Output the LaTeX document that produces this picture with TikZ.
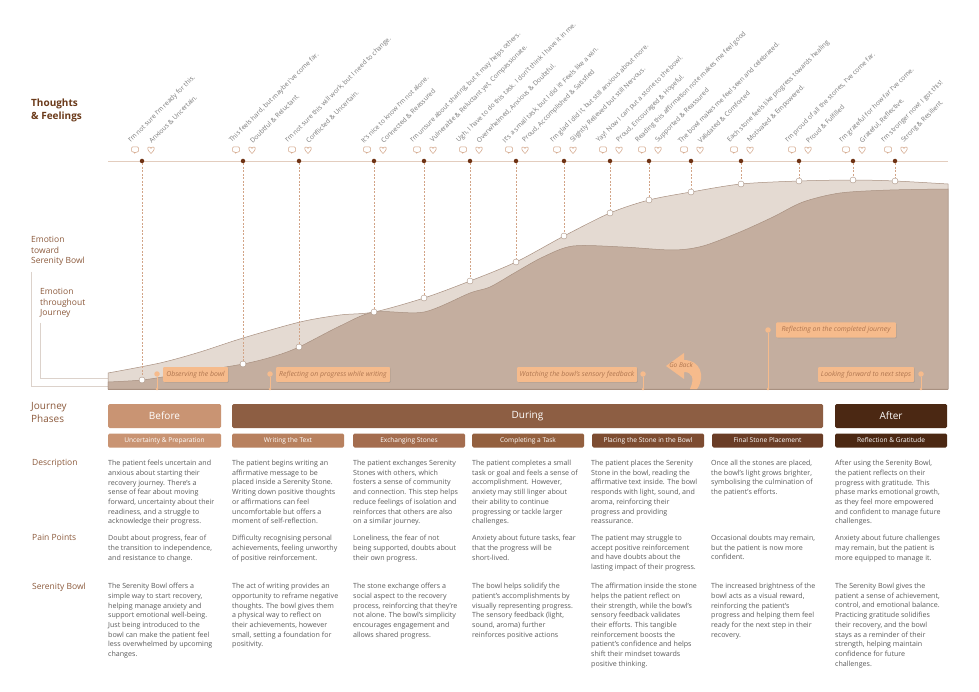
\documentclass[tikz,border=0pt]{standalone}
\usepackage{fontspec}
\setmainfont{Open Sans}
\usetikzlibrary{shadows}
\definecolor{dotbrown}{HTML}{6E3214}
\definecolor{titlebrown}{HTML}{6B3A1A}
\definecolor{labelbrown}{HTML}{8C5A3C}
\definecolor{linetan}{HTML}{E3CDBE}
\definecolor{dashtan}{HTML}{D2A487}
\definecolor{lightarea}{HTML}{E4DAD2}
\definecolor{darkarea}{HTML}{C4AE9F}
\definecolor{edgegray}{HTML}{A89080}
\definecolor{tagfill}{HTML}{F6BB8C}
\definecolor{tagtext}{HTML}{B07650}
\definecolor{bodygray}{HTML}{5A5A5A}
\definecolor{thoughtgray}{HTML}{7A7A7A}
\definecolor{bracketgray}{HTML}{DCD2CB}
\definecolor{phaseA}{HTML}{C99473}
\definecolor{phaseB}{HTML}{8D5E43}
\definecolor{phaseC}{HTML}{4B2813}
\definecolor{subB}{HTML}{B8815F}
\definecolor{subC}{HTML}{A46D4F}
\definecolor{subD}{HTML}{93603F}
\definecolor{subE}{HTML}{7D4C31}
\definecolor{subF}{HTML}{6A3D26}
\tikzset{
  title/.style={anchor=north west, inner sep=0, align=left, text=titlebrown, font=\fontsize{10}{13}\selectfont\bfseries},
  sidelabel/.style={anchor=north west, inner sep=0, align=left, text=labelbrown, font=\fontsize{8.5}{10.7}\selectfont},
  rowlabel/.style={anchor=north west, inner sep=0, align=left, text=labelbrown, font=\fontsize{8.5}{10.7}\selectfont},
  body/.style={anchor=north west, inner sep=0, align=left, text=bodygray, font=\fontsize{7.1}{9.7}\selectfont},
  timeline/.style={draw=linetan, line width=0.8},
  tdot/.style={circle, fill=dotbrown, inner sep=0, minimum size=4.5},
  wdot/.style={circle, draw=edgegray, fill=white, line width=0.4, inner sep=0, minimum size=6},
  vdash/.style={draw=dashtan, dashed, line width=0.5, dash pattern=on 2pt off 1.5pt},
  thought/.style={rotate=45, anchor=south west, inner sep=0, text=thoughtgray, font=\fontsize{6.6}{7}\selectfont},
  icon/.style={draw=dashtan, line width=0.5, fill=white},
  bubble/.pic={\draw[icon, rounded corners=1] (-3.5,-3) -- (3.5,-3) -- (3.5,2) -- (1,2) -- (-0.5,3.5) -- (-0.5,2) -- (-3.5,2) -- cycle;},
  heart/.pic={\draw[icon] (0,3.5) .. controls (-4,0) and (-4,-3) .. (-2,-3) .. controls (-1,-3) and (0,-2) .. (0,-1.5) .. controls (0,-2) and (1,-3) .. (2,-3) .. controls (4,-3) and (4,0) .. (0,3.5);},
  curveedge/.style={draw=edgegray, line width=0.5},
  bracket/.style={draw=bracketgray, line width=0.8},
  tag/.style={fill=tagfill, text=tagtext, font=\fontsize{6.9}{7.5}\selectfont\itshape, inner sep=0, minimum height=15, rounded corners=1, drop shadow={opacity=0.25, shadow xshift=0.8pt, shadow yshift=-0.8pt}},
  tagdot/.style={circle, fill=tagfill, inner sep=0, minimum size=5.5},
  tagfoot/.style={circle, fill=tagfill, inner sep=0, minimum size=2.6},
  tagline/.style={draw=tagfill, line width=0.4},
  phasebox/.style={text=white, inner sep=0, minimum height=24, rounded corners=1.5, font=\fontsize{10}{12}\selectfont},
  subbox/.style={text=white, inner sep=0, minimum height=14, rounded corners=1.5, font=\fontsize{6.6}{8}\selectfont}
}
\begin{document}
\begin{tikzpicture}[x=1pt, y=-1pt]
\useasboundingbox[fill=white] (0,0) rectangle (979,692);

% side labels
\node[title] (tf) at (31,99) {Thoughts\\\& Feelings};
\node[sidelabel] (esb) at (31,236) {Emotion\\toward\\Serenity Bowl};
\node[sidelabel] (ej) at (40,288) {Emotion\\throughout\\Journey};
\coordinate (ea) at (31,272); \coordinate (eb) at (108,386);
\coordinate (ja) at (40,323); \coordinate (jb) at (108,378);
\draw[bracket] (ea) |- (eb);
\draw[bracket] (ja) |- (jb);

% emotion curves
\filldraw[fill=lightarea, curveedge] (108,389) -- plot[smooth] coordinates {(108,373) (160,363) (200,352) (243,338) (300,322) (340,315) (374,312) (424,298) (470,281) (516,262) (564,236) (610,213) (649,200) (691,192) (741,184) (799,181) (853,180) (895,181) (948,184)} -- (948,389) -- cycle;
\filldraw[fill=darkarea, curveedge] (108,389) -- plot[smooth] coordinates {(108,382) (142,380) (175,375) (243,364) (275,356) (299,347) (340,326) (374,312) (424,312) (470,293) (490,287) (516,272) (543,257) (573,246) (623,247) (673,250) (703,246) (740,232) (773,217) (803,202) (840,193) (890,190) (948,189)} -- (948,389) -- cycle;
\draw[draw=edgegray, line width=0.8] (108,389) -- (948,389);

% timeline
\coordinate (tl0) at (108,161); \coordinate (tl1) at (948,161);
\draw[timeline] (tl0) -- (tl1);

% thoughts and feelings
\node[tdot] (t1) at (142,161) {}; \node[wdot] (w1) at (142,380) {}; \draw[vdash] (t1) -- (w1);
\pic at (135,150) {bubble}; \pic at (151,150) {heart};
\node[thought] at (132,144) {I'm not sure I'm ready for this.};
\node[thought] at (152,144) {Anxious \& Uncertain.};
\node[tdot] (t2) at (243,161) {}; \node[wdot] (w2) at (243,364) {}; \draw[vdash] (t2) -- (w2);
\pic at (236,150) {bubble}; \pic at (252,150) {heart};
\node[thought] at (233,144) {This feels hard, but maybe I've come far.};
\node[thought] at (253,144) {Doubtful \& Reluctant.};
\node[tdot] (t3) at (299,161) {}; \node[wdot] (w3) at (299,347) {}; \draw[vdash] (t3) -- (w3);
\pic at (292,150) {bubble}; \pic at (308,150) {heart};
\node[thought] at (289,144) {I'm not sure this will work, but I need to change.};
\node[thought] at (309,144) {Conflicted \& Uncertain.};
\node[tdot] (t4) at (374,161) {}; \node[wdot] (w4) at (374,312) {}; \draw[vdash] (t4) -- (w4);
\pic at (367,150) {bubble}; \pic at (383,150) {heart};
\node[thought] at (364,144) {It's nice to know I'm not alone.};
\node[thought] at (384,144) {Connected \& Reassured};
\node[tdot] (t5) at (424,161) {}; \node[wdot] (w5) at (424,298) {}; \draw[vdash] (t5) -- (w5);
\pic at (417,150) {bubble}; \pic at (433,150) {heart};
\node[thought] at (414,144) {I'm unsure about sharing, but it may helps others.};
\node[thought] at (434,144) {Vulnerable \& Reluctant yet, Compassionate.};
\node[tdot] (t6) at (470,161) {}; \node[wdot] (w6) at (470,281) {}; \draw[vdash] (t6) -- (w6);
\pic at (463,150) {bubble}; \pic at (479,150) {heart};
\node[thought] at (460,144) {Ugh, I have to do this task. I don't think I have it in me.};
\node[thought] at (480,144) {Overwhelmed, Anxious \& Doubtful.};
\node[tdot] (t7) at (516,161) {}; \node[wdot] (w7) at (516,262) {}; \draw[vdash] (t7) -- (w7);
\pic at (509,150) {bubble}; \pic at (525,150) {heart};
\node[thought] at (506,144) {It's a small task, but I did it! Feels like a win.};
\node[thought] at (526,144) {Proud, Accomplished \& Satisfied};
\node[tdot] (t8) at (564,161) {}; \node[wdot] (w8) at (564,236) {}; \draw[vdash] (t8) -- (w8);
\pic at (557,150) {bubble}; \pic at (573,150) {heart};
\node[thought] at (554,144) {I'm glad I did it, but still anxious about more.};
\node[thought] at (574,144) {Slightly Relieved but still Nervous.};
\node[tdot] (t9) at (610,161) {}; \node[wdot] (w9) at (610,213) {}; \draw[vdash] (t9) -- (w9);
\pic at (603,150) {bubble}; \pic at (619,150) {heart};
\node[thought] at (600,144) {Yay! Now I can put a stone to the bowl.};
\node[thought] at (620,144) {Proud, Encouraged \& Hopeful.};
\node[tdot] (t10) at (649,161) {}; \node[wdot] (w10) at (649,200) {}; \draw[vdash] (t10) -- (w10);
\pic at (642,150) {bubble}; \pic at (658,150) {heart};
\node[thought] at (639,144) {Reading this affirmation note makes me feel good};
\node[thought] at (659,144) {Supported \& Reassured};
\node[tdot] (t11) at (691,161) {}; \node[wdot] (w11) at (691,192) {}; \draw[vdash] (t11) -- (w11);
\pic at (684,150) {bubble}; \pic at (700,150) {heart};
\node[thought] at (681,144) {The bowl makes me feel seen and celebrated.};
\node[thought] at (701,144) {Validated \& Comforted};
\node[tdot] (t12) at (741,161) {}; \node[wdot] (w12) at (741,184) {}; \draw[vdash] (t12) -- (w12);
\pic at (734,150) {bubble}; \pic at (750,150) {heart};
\node[thought] at (731,144) {Each stone feels like progress towards healing};
\node[thought] at (751,144) {Motivated \& Empowered.};
\node[tdot] (t13) at (799,161) {}; \node[wdot] (w13) at (799,181) {}; \draw[vdash] (t13) -- (w13);
\pic at (792,150) {bubble}; \pic at (808,150) {heart};
\node[thought] at (789,144) {I'm proud of all the stones, I've come far.};
\node[thought] at (809,144) {Proud \& Fulfilled};
\node[tdot] (t14) at (853,161) {}; \node[wdot] (w14) at (853,180) {}; \draw[vdash] (t14) -- (w14);
\pic at (846,150) {bubble}; \pic at (862,150) {heart};
\node[thought] at (843,144) {I'm grateful for how far I've come.};
\node[thought] at (863,144) {Grateful, Reflective.};
\node[tdot] (t15) at (895,161) {}; \node[wdot] (w15) at (895,181) {}; \draw[vdash] (t15) -- (w15);
\pic at (888,150) {bubble}; \pic at (904,150) {heart};
\node[thought] at (885,144) {I'm stronger now! I got this!};
\node[thought] at (905,144) {Strong \& Resilient.};

% touchpoint tags
\node[tagdot] (od) at (157,374) {}; \node[tagfoot] (of) at (157,389) {}; \draw[tagline] (od) -- (of);
\node[tag, minimum width=65] (observe) at (195.5,374.5) {Observing the bowl};
\node[tagdot] (rd) at (270,374) {}; \node[tagfoot] (rf) at (270,389) {}; \draw[tagline] (rd) -- (rf);
\node[tag, minimum width=114] (reflect) at (333,374.5) {Reflecting on progress while writing};
\node[tagdot] (wd) at (643,374) {}; \node[tagfoot] (wf) at (643,389) {}; \draw[tagline] (wd) -- (wf);
\node[tag, minimum width=120] (watch) at (577,374.5) {Watching the bowl's sensory feedback};
\node[tagdot] (cd) at (768,330) {}; \node[tagfoot] (cf) at (768,389) {}; \draw[tagline] (cd) -- (cf);
\node[tag, minimum width=120] (complete) at (836,330) {Reflecting on the completed journey};
\node[tagdot] (ld) at (921,374) {}; \node[tagfoot] (lf) at (921,389) {}; \draw[tagline] (ld) -- (lf);
\node[tag, minimum width=96] (forward) at (866,374.5) {Looking forward to next steps};
\fill[tagfill] (666,366) -- (684,353) -- (684,360) .. controls (700,360) and (706,376) .. (697,389) -- (690,389) .. controls (695,378) and (692,372) .. (684,372) -- (684,379) -- cycle;
\node[text=tagtext, font=\fontsize{6.5}{7}\selectfont\itshape, inner sep=0] (goback) at (681,365.5) {Go Back};

% journey phases
\node[rowlabel, font=\fontsize{10}{13}\selectfont] (jp) at (31,402) {Journey\\Phases};
\node[phasebox, fill=phaseA, minimum width=113] (before) at (164.5,416) {Before};
\node[phasebox, fill=phaseB, minimum width=591] (during) at (527.5,416) {During};
\node[phasebox, fill=phaseC, minimum width=112] (after) at (891,416) {After};
\node[subbox, fill=phaseA, minimum width=113] (s1) at (164.5,440.5) {Uncertainty \& Preparation};
\node[subbox, fill=subB, minimum width=112] (s2) at (288,440.5) {Writing the Text};
\node[subbox, fill=subC, minimum width=112] (s3) at (409,440.5) {Exchanging Stones};
\node[subbox, fill=subD, minimum width=112] (s4) at (528,440.5) {Completing a Task};
\node[subbox, fill=subE, minimum width=112] (s5) at (648,440.5) {Placing the Stone in the Bowl};
\node[subbox, fill=subF, minimum width=111] (s6) at (767.5,440.5) {Final Stone Placement};
\node[subbox, fill=phaseC, minimum width=112] (s7) at (891,440.5) {Reflection \& Gratitude};

% description row
\node[rowlabel] (lab1) at (32,459.5) {Description};
\node[body] (d1) at (108,460) {The patient feels uncertain and\\anxious about starting their\\recovery journey. There's a\\sense of fear about moving\\forward, uncertainty about their\\readiness, and a struggle to\\acknowledge their progress.};
\node[body] (d2) at (232,460) {The patient begins writing an\\affirmative message to be\\placed inside a Serenity Stone.\\Writing down positive thoughts\\or affirmations can feel\\uncomfortable but offers a\\moment of self-reflection.};
\node[body] (d3) at (353,460) {The patient exchanges Serenity\\Stones with others, which\\fosters a sense of community\\and connection. This step helps\\reduce feelings of isolation and\\reinforces that others are also\\on a similar journey.};
\node[body] (d4) at (472,460) {The patient completes a small\\task or goal and feels a sense of\\accomplishment. However,\\anxiety may still linger about\\their ability to continue\\progressing or tackle larger\\challenges.};
\node[body] (d5) at (591,460) {The patient places the Serenity\\Stone in the bowl, reading the\\affirmative text inside. The bowl\\responds with light, sound, and\\aroma, reinforcing their\\progress and providing\\reassurance.};
\node[body] (d6) at (711,460) {Once all the stones are placed,\\the bowl's light grows brighter,\\symbolising the culmination of\\the patient's efforts.};
\node[body] (d7) at (835,460) {After using the Serenity Bowl,\\the patient reflects on their\\progress with gratitude. This\\phase marks emotional growth,\\as they feel more empowered\\and confident to manage future\\challenges.};

% pain points row
\node[rowlabel] (lab2) at (32,534.5) {Pain Points};
\node[body] (p1) at (108,535) {Doubt about progress, fear of\\the transition to independence,\\and resistance to change.};
\node[body] (p2) at (232,535) {Difficulty recognising personal\\achievements, feeling unworthy\\of positive reinforcement.};
\node[body] (p3) at (353,535) {Loneliness, the fear of not\\being supported, doubts about\\their own progress.};
\node[body] (p4) at (472,535) {Anxiety about future tasks, fear\\that the progress will be\\short-lived.};
\node[body] (p5) at (591,535) {The patient may struggle to\\accept positive reinforcement\\and have doubts about the\\lasting impact of their progress.};
\node[body] (p6) at (711,535) {Occasional doubts may remain,\\but the patient is now more\\confident.};
\node[body] (p7) at (835,535) {Anxiety about future challenges\\may remain, but the patient is\\more equipped to manage it.};

% serenity bowl row
\node[rowlabel] (lab3) at (32,582.5) {Serenity Bowl};
\node[body] (b1) at (108,583) {The Serenity Bowl offers a\\simple way to start recovery,\\helping manage anxiety and\\support emotional well-being.\\Just being introduced to the\\bowl can make the patient feel\\less overwhelmed by upcoming\\changes.};
\node[body] (b2) at (232,583) {The act of writing provides an\\opportunity to reframe negative\\thoughts. The bowl gives them\\a physical way to reflect on\\their achievements, however\\small, setting a foundation for\\positivity.};
\node[body] (b3) at (353,583) {The stone exchange offers a\\social aspect to the recovery\\process, reinforcing that they're\\not alone. The bowl's simplicity\\encourages engagement and\\allows shared progress.};
\node[body] (b4) at (472,583) {The bowl helps solidify the\\patient's accomplishments by\\visually representing progress.\\The sensory feedback (light,\\sound, aroma) further\\reinforces positive actions};
\node[body] (b5) at (591,583) {The affirmation inside the stone\\helps the patient reflect on\\their strength, while the bowl's\\sensory feedback validates\\their efforts. This tangible\\reinforcement boosts the\\patient's confidence and helps\\shift their mindset towards\\positive thinking.};
\node[body] (b6) at (711,583) {The increased brightness of the\\bowl acts as a visual reward,\\reinforcing the patient's\\progress and helping them feel\\ready for the next step in their\\recovery.};
\node[body] (b7) at (835,583) {The Serenity Bowl gives the\\patient a sense of achievement,\\control, and emotional balance.\\Practicing gratitude solidifies\\their recovery, and the bowl\\stays as a reminder of their\\strength, helping maintain\\confidence for future\\challenges.};
\end{tikzpicture}
\end{document}
